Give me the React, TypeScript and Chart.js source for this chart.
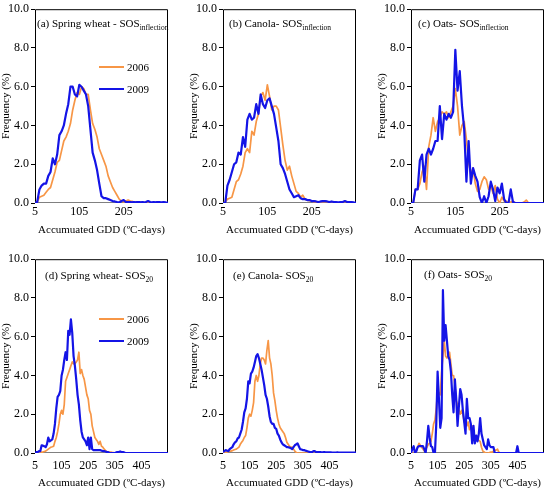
import React, { useEffect, useRef } from "react";
import { Chart, Plugin, registerables } from "chart.js";

Chart.register(...registerables);

const ORANGE = "#F79646";
const BLUE = "#1414E6";
const FONT = "'Liberation Serif', 'Times New Roman', serif";

// GDD bins: 5-unit classes starting at 5
const BIN_START = 5;
const BIN_WIDTH = 5;

// tick labels
const topXTicks = [5, 105, 205];
const bottomXTicks = [5, 105, 205, 305, 405];
const yTicks = [0, 2, 4, 6, 8, 10];

// (a) spring wheat SOS inflection, bins 5..305
const wheatInfl2006 = [
  0, 0.05, 0.3, 0.35, 0.4, 0.55, 0.7, 0.8, 1.2, 1.6,
  2.1, 2.2, 2.7, 3.2, 3.4, 3.7, 4.1, 4.8, 5.3, 5.7,
  5.6, 6.0, 5.9, 5.6, 5.6, 4.8, 4.1, 3.8, 3.4, 2.8,
  2.5, 2.2, 1.9, 1.4, 1.1, 0.8, 0.6, 0.4, 0.2, 0.1,
  0.05, 0.1, 0.15, 0.1, 0.08, 0.05, 0.05, 0.03, 0.03, 0.02,
  0.02, 0.02, 0.02, 0.01, 0.01, 0, 0, 0, 0, 0,
  0,
];
const wheatInfl2009 = [
  0, 0.05, 0.7, 0.9, 1.0, 1.0, 1.4, 1.6, 2.3, 2.0,
  2.5, 3.5, 3.7, 4.0, 4.6, 5.1, 6.0, 6.0, 5.6, 5.5,
  6.1, 6.0, 5.8, 5.6, 5.0, 3.8, 2.6, 2.2, 1.7, 1.0,
  0.35, 0.25, 0.25, 0.2, 0.15, 0.1, 0.08, 0.05, 0.03, 0.1,
  0.15, 0.05, 0.05, 0.05, 0.04, 0.04, 0.05, 0.05, 0.04, 0.04,
  0.05, 0.1, 0.05, 0.04, 0.04, 0.05, 0.05, 0.04, 0.05, 0.03,
  0.02,
];

// (b) canola SOS inflection
const canolaInfl2006 = [
  0, 0.05, 0.2, 0.25, 0.3, 0.7, 1.1, 1.2, 1.5, 1.9,
  2.6, 2.8, 2.6, 3.7, 3.5, 4.2, 4.6, 5.5, 5.7, 5.3,
  6.1, 5.5, 4.8, 5.0, 5.0, 4.8, 3.9, 3.0, 2.2, 1.7,
  1.9, 1.4, 1.0, 0.6, 0.5, 0.3, 0.4, 0.2, 0.15, 0.12,
  0.1, 0.05, 0.03, 0.02, 0, 0, 0, 0, 0, 0,
  0, 0, 0, 0, 0, 0, 0, 0, 0, 0,
  0,
];
const canolaInfl2009 = [
  0, 0, 0.9, 1.2, 1.6, 2.0, 2.1, 2.6, 2.5, 3.4,
  2.9, 4.3, 4.6, 4.3, 4.4, 5.1, 4.6, 5.6, 5.1, 4.9,
  5.3, 5.4, 5.0, 4.6, 3.9, 3.2, 2.0, 1.8, 1.5, 1.1,
  0.7, 0.5, 0.3, 0.35, 0.4, 0.25, 0.2, 0.2, 0.15, 0.15,
  0.1, 0.1, 0.08, 0.05, 0.08, 0.1, 0.1, 0.08, 0.05, 0.08,
  0.05, 0.05, 0.04, 0.05, 0.05, 0.1, 0.05, 0.05, 0.05, 0.03,
  0.02,
];

// (c) oats SOS inflection
const oatsInfl2006 = [
  0, 0, 0.7, 0.7, 1.0, 1.6, 1.9, 0.7, 2.9, 3.5,
  4.4, 3.7, 4.2, 4.4, 4.7, 4.6, 4.7, 4.4, 4.7, 5.0,
  5.9, 5.0, 3.5, 4.0, 4.2, 3.3, 2.1, 1.5, 1.8, 1.0,
  0.6, 0.7, 1.1, 1.35, 1.2, 0.7, 0.9, 0.5, 0.9, 0.2,
  0, 0.3, 0.1, 0.1, 0, 0.05, 0.1, 0, 0, 0,
  0, 0.05, 0.15, 0, 0, 0, 0, 0, 0, 0,
  0,
];
const oatsInfl2009 = [
  0, 0, 0.7, 0.7, 2.2, 2.5, 1.1, 2.5, 2.8, 2.5,
  2.8, 3.2, 3.2, 5.0, 3.3, 4.6, 4.3, 4.6, 4.4, 4.7,
  7.9, 5.8, 6.8, 5.0, 3.8, 1.1, 3.2, 1.0, 1.8, 1.4,
  1.1, 0.3, 0, 0.35, 0, 0.35, 1.1, 0.7, 0.1, 0.8,
  0.5, 1.0, 0.2, 0, 0, 0.7, 0.05, 0, 0, 0,
  0, 0, 0, 0, 0, 0, 0, 0, 0, 0,
  0,
];

// (d) spring wheat SOS20, bins 5..505
const wheat20_2006 = [
  0, 0, 0, 0, 0, 0.05, 0.05, 0.08, 0.1, 0.15,
  0.2, 0.25, 0.3, 0.32, 0.35, 0.6, 0.8, 1.1, 1.5, 2.0,
  2.2, 2.0, 2.5, 3.7, 3.9, 4.1, 4.3, 4.5, 4.7, 4.6,
  4.6, 4.7, 4.8, 5.2, 4.1, 4.3, 4.0, 3.8, 3.4, 3.0,
  2.8, 2.2, 2.0, 1.4, 1.1, 0.8, 0.7, 0.6, 0.45, 0.6,
  0.35, 0.3, 0.2, 0.12, 0.08, 0.05, 0.05, 0.05, 0.03, 0.02,
  0, 0, 0.03, 0.05, 0.05, 0.05, 0.05, 0.02, 0, 0,
  0, 0, 0, 0, 0, 0, 0, 0, 0, 0,
  0, 0, 0, 0, 0, 0, 0, 0, 0, 0,
  0, 0, 0, 0, 0, 0, 0, 0, 0, 0,
  0,
];
const wheat20_2009 = [
  0, 0.05, 0.05, 0.1, 0.1, 0.4, 0.38, 0.35, 0.3, 0.45,
  0.8, 0.6, 0.65, 0.7, 1.0, 1.5, 2.3, 2.9, 3.0, 3.2,
  4.0, 4.3, 4.8, 5.2, 4.8, 6.3, 6.1, 6.9, 6.2, 5.0,
  4.5, 3.8, 3.0, 2.5, 1.7, 1.1, 0.8, 0.7, 0.6, 0.4,
  0.8, 0.2, 0.8, 0.2, 0.15, 0.15, 0.15, 0.15, 0.15, 0.15,
  0.12, 0.1, 0.1, 0.08, 0.05, 0.05, 0, 0, 0, 0,
  0, 0.03, 0.05, 0.05, 0.08, 0.05, 0.05, 0.03, 0, 0,
  0, 0, 0, 0, 0, 0, 0, 0, 0, 0,
  0, 0, 0, 0, 0, 0, 0, 0, 0, 0,
  0, 0, 0, 0, 0, 0, 0, 0, 0, 0,
  0,
];

// (e) canola SOS20
const canola20_2006 = [
  0, 0.02, 0.05, 0.05, 0.08, 0.1, 0.1, 0.12, 0.15, 0.18,
  0.2, 0.25, 0.3, 0.45, 0.55, 0.65, 0.8, 0.9, 1.3, 1.8,
  2.0, 1.9, 2.2, 2.6, 3.7, 4.0, 3.7, 4.0, 4.6, 4.9,
  4.9, 4.8, 4.6, 5.3, 5.8, 4.9, 4.6, 4.0, 3.1, 2.7,
  2.2, 1.8, 1.5, 1.3, 1.2, 1.1, 1.0, 0.8, 0.55, 0.45,
  0.35, 0.3, 0.3, 0.2, 0.1, 0.03, 0, 0, 0, 0,
  0, 0, 0, 0, 0, 0, 0, 0, 0, 0,
  0, 0, 0, 0, 0, 0, 0, 0, 0, 0,
  0, 0, 0, 0, 0, 0, 0, 0, 0, 0,
  0, 0, 0, 0, 0, 0, 0, 0, 0, 0,
  0,
];
const canola20_2009 = [
  0.05, 0.1, 0.15, 0.12, 0.1, 0.2, 0.25, 0.3, 0.45, 0.55,
  0.6, 0.75, 0.8, 1.0, 1.2, 1.6, 2.1, 2.3, 2.8, 3.7,
  3.6, 4.1, 4.2, 4.4, 4.7, 5.0, 5.1, 4.9, 4.6, 4.3,
  3.9, 3.5, 3.0, 2.8, 2.4, 1.9, 1.6, 1.5, 1.5, 1.3,
  1.25, 1.0, 0.9, 0.7, 0.55, 0.45, 0.4, 0.35, 0.3, 0.3,
  0.28, 0.25, 0.2, 0.3, 0.4, 0.45, 0.5, 0.35, 0.2, 0.18,
  0.15, 0.15, 0.12, 0.1, 0.08, 0.06, 0.05, 0.05, 0.1, 0.1,
  0.05, 0.05, 0.05, 0.05, 0.03, 0.03, 0.05, 0.03, 0.03, 0.03,
  0.03, 0.03, 0.02, 0.02, 0.02, 0.02, 0.03, 0.02, 0.02, 0.02,
  0.02, 0.02, 0.02, 0.02, 0.02, 0.02, 0.02, 0.02, 0.02, 0.02,
  0.02,
];

// (f) oats SOS20
const oats20_2006 = [
  0, 0, 0, 0.05, 0.1, 0.3, 0.5, 0.4, 0.3, 0.2,
  0.1, 0.2, 0.3, 0.45, 0.5, 0.6, 1.0, 1.5, 1.7, 2.3,
  3.2, 3.1, 3.0, 4.2, 5.0, 5.8, 5.0, 4.9, 5.0, 5.2,
  4.6, 4.0, 4.0, 3.5, 2.7, 2.5, 2.2, 2.0, 2.2, 2.0,
  1.6, 1.5, 1.4, 1.6, 1.2, 1.3, 1.4, 1.0, 0.8, 0.9,
  0.7, 0.65, 0.6, 0.3, 0.1, 0.05, 0, 0, 0, 0.02,
  0.05, 0.05, 0.1, 0.15, 0.15, 0.2, 0.05, 0, 0, 0,
  0, 0, 0, 0, 0, 0, 0, 0, 0, 0,
  0, 0, 0, 0, 0, 0, 0, 0, 0, 0,
  0, 0, 0, 0, 0, 0, 0, 0, 0, 0,
  0,
];
const oats20_2009 = [
  0, 0.2, 0.35, 0, 0.1, 0.3, 0.35, 0.35, 0.35, 0.35,
  0.2, 0, 0.6, 1.4, 0.8, 0.35, 0.3, 0, 0, 1.5,
  4.2, 2.8, 1.3, 1.8, 8.4, 5.8, 6.6, 5.8, 5.0, 4.8,
  4.2, 3.0, 2.1, 3.8, 2.8, 1.4, 2.4, 3.3, 3.0, 2.2,
  1.6, 1.0, 2.8, 1.8, 1.8, 1.5, 0.5, 1.4, 0.5, 0.9,
  0.6, 1.0, 1.8, 1.0, 0.7, 0.4, 0.3, 0.2, 0.7, 0.4,
  0.3, 0.3, 0.3, 0, 0, 0, 0, 0, 0, 0,
  0, 0, 0, 0, 0, 0, 0, 0, 0, 0,
  0.35, 0, 0, 0, 0, 0, 0, 0, 0, 0,
  0, 0, 0, 0, 0, 0, 0, 0, 0, 0,
  0,
];

const toPoints = (vals: number[]) =>
  vals.map((y, i) => ({ x: BIN_START + BIN_WIDTH * i, y }));

// box round the plot area, drawn under the lines
const framePlugin: Plugin = {
  id: "frame",
  beforeDatasetsDraw(chart) {
    const { ctx, chartArea: a } = chart;
    ctx.save();
    ctx.lineWidth = 1;
    ctx.strokeStyle = "#000";
    ctx.beginPath();
    ctx.moveTo(a.left + 0.5, a.bottom);
    ctx.lineTo(a.left + 0.5, a.top + 0.5);
    ctx.lineTo(a.right - 0.5, a.top + 0.5);
    ctx.lineTo(a.right - 0.5, a.bottom);
    ctx.stroke();
    ctx.strokeStyle = "#808080";
    ctx.beginPath();
    ctx.moveTo(a.left, a.bottom - 0.5);
    ctx.lineTo(a.right, a.bottom - 0.5);
    ctx.stroke();
    ctx.restore();
  },
};

interface PanelProps {
  left: number;
  top: number;
  xMax: number;
  xTicks: number[];
  s2006: number[];
  s2009: number[];
  labelPad: number;
  titlePad: number;
}

const CANVAS_W = 174;
const CANVAS_H = 243;

const Panel: React.FC<PanelProps> = ({
  left,
  top,
  xMax,
  xTicks,
  s2006,
  s2009,
  labelPad,
  titlePad,
}) => {
  const canvasRef = useRef<HTMLCanvasElement | null>(null);

  useEffect(() => {
    const canvas = canvasRef.current;
    if (!canvas) return;

    const chart = new Chart(canvas, {
      type: "line",
      data: {
        datasets: [
          {
            label: "2009",
            data: toPoints(s2009),
            borderColor: BLUE,
            borderWidth: 2.2,
            order: 0,
          },
          {
            label: "2006",
            data: toPoints(s2006),
            borderColor: ORANGE,
            borderWidth: 1.7,
            order: 1,
          },
        ],
      },
      options: {
        animation: false,
        responsive: false,
        events: [],
        layout: { padding: { top: 8, right: 6, left: 0, bottom: 0 } },
        elements: {
          point: { radius: 0 },
          line: { tension: 0, borderJoinStyle: "round", fill: false },
        },
        plugins: {
          legend: { display: false },
          tooltip: { enabled: false },
        },
        scales: {
          x: {
            type: "linear",
            min: BIN_START,
            max: xMax,
            afterBuildTicks: (axis) => {
              axis.ticks = xTicks.map((value) => ({ value }));
            },
            afterFit: (axis) => {
              axis.height = 40;
            },
            grid: { display: false, drawTicks: false },
            border: { display: false },
            ticks: {
              color: "#000",
              font: { family: FONT, size: 12 },
              padding: labelPad,
              maxRotation: 0,
              autoSkip: false,
              callback: (v) => String(v),
            },
            title: {
              display: true,
              text: "Accumuated GDD (ºC-days)",
              color: "#000",
              font: { family: FONT, size: 11 },
              padding: { top: 0, bottom: titlePad },
            },
          },
          y: {
            min: 0,
            max: 10,
            afterBuildTicks: (axis) => {
              axis.ticks = yTicks.map((value) => ({ value }));
            },
            afterFit: (axis) => {
              axis.width = 35;
            },
            grid: {
              display: true,
              drawOnChartArea: false,
              drawTicks: true,
              tickLength: 4,
              color: "#000",
            },
            border: { display: false },
            ticks: {
              color: "#000",
              font: { family: FONT, size: 12 },
              padding: 2,
              callback: (v) => Number(v).toFixed(1),
            },
            title: {
              display: true,
              text: "Frequency (%)",
              color: "#000",
              font: { family: FONT, size: 11 },
              padding: 0,
            },
          },
        },
      },
      plugins: [framePlugin],
    });

    return () => {
      chart.destroy();
    };
  }, [xMax, xTicks, s2006, s2009, labelPad, titlePad]);

  return (
    <canvas
      ref={canvasRef}
      width={CANVAS_W}
      height={CANVAS_H}
      style={{ position: "absolute", left, top, width: CANVAS_W, height: CANVAS_H }}
    />
  );
};

const PanelTitle: React.FC<{ x: number; y: number; text: string; sub: string }> = ({
  x,
  y,
  text,
  sub,
}) => (
  <div
    style={{
      position: "absolute",
      left: x,
      top: y - 7,
      fontFamily: FONT,
      fontSize: 11,
      lineHeight: "14px",
      whiteSpace: "nowrap",
      color: "#000",
    }}
  >
    {text}
    <span style={{ fontSize: 7.5, position: "relative", top: 3 }}>{sub}</span>
  </div>
);

const Legend: React.FC<{ x: number; y: number }> = ({ x, y }) => {
  const rows = [
    { label: "2006", color: ORANGE, width: 1.7, dy: 0 },
    { label: "2009", color: BLUE, width: 2.2, dy: 22 },
  ];
  return (
    <>
      {rows.map((r) => (
        <div key={r.label}>
          <div
            style={{
              position: "absolute",
              left: x,
              top: y + r.dy - r.width / 2,
              width: 25,
              height: r.width,
              background: r.color,
            }}
          />
          <div
            style={{
              position: "absolute",
              left: x + 28,
              top: y + r.dy - 7,
              fontFamily: FONT,
              fontSize: 11,
              lineHeight: "14px",
              color: "#000",
            }}
          >
            {r.label}
          </div>
        </div>
      ))}
    </>
  );
};

const App: React.FC = () => {
  return (
    <div
      style={{
        position: "absolute",
        left: 0,
        top: 0,
        width: 550,
        height: 493,
        background: "#fff",
        overflow: "hidden",
      }}
    >
      <Panel left={0} top={0} xMax={305} xTicks={topXTicks} s2006={wheatInfl2006} s2009={wheatInfl2009} labelPad={2} titlePad={6} />
      <Panel left={188} top={0} xMax={305} xTicks={topXTicks} s2006={canolaInfl2006} s2009={canolaInfl2009} labelPad={2} titlePad={6} />
      <Panel left={376} top={0} xMax={305} xTicks={topXTicks} s2006={oatsInfl2006} s2009={oatsInfl2009} labelPad={2} titlePad={6} />
      <Panel left={0} top={250} xMax={505} xTicks={bottomXTicks} s2006={wheat20_2006} s2009={wheat20_2009} labelPad={6} titlePad={3} />
      <Panel left={188} top={250} xMax={505} xTicks={bottomXTicks} s2006={canola20_2006} s2009={canola20_2009} labelPad={6} titlePad={3} />
      <Panel left={376} top={250} xMax={505} xTicks={bottomXTicks} s2006={oats20_2006} s2009={oats20_2009} labelPad={6} titlePad={3} />

      <PanelTitle x={37} y={23} text="(a) Spring wheat - SOS" sub="inflection" />
      <PanelTitle x={229} y={23} text="(b) Canola- SOS" sub="inflection" />
      <PanelTitle x={418} y={23} text="(c) Oats- SOS" sub="inflection" />
      <PanelTitle x={45} y={275} text="(d) Spring wheat- SOS" sub="20" />
      <PanelTitle x={233} y={275} text="(e) Canola- SOS" sub="20" />
      <PanelTitle x={424} y={274} text="(f) Oats- SOS" sub="20" />

      <Legend x={99} y={67} />
      <Legend x={99} y={319} />
    </div>
  );
};

export default App;
